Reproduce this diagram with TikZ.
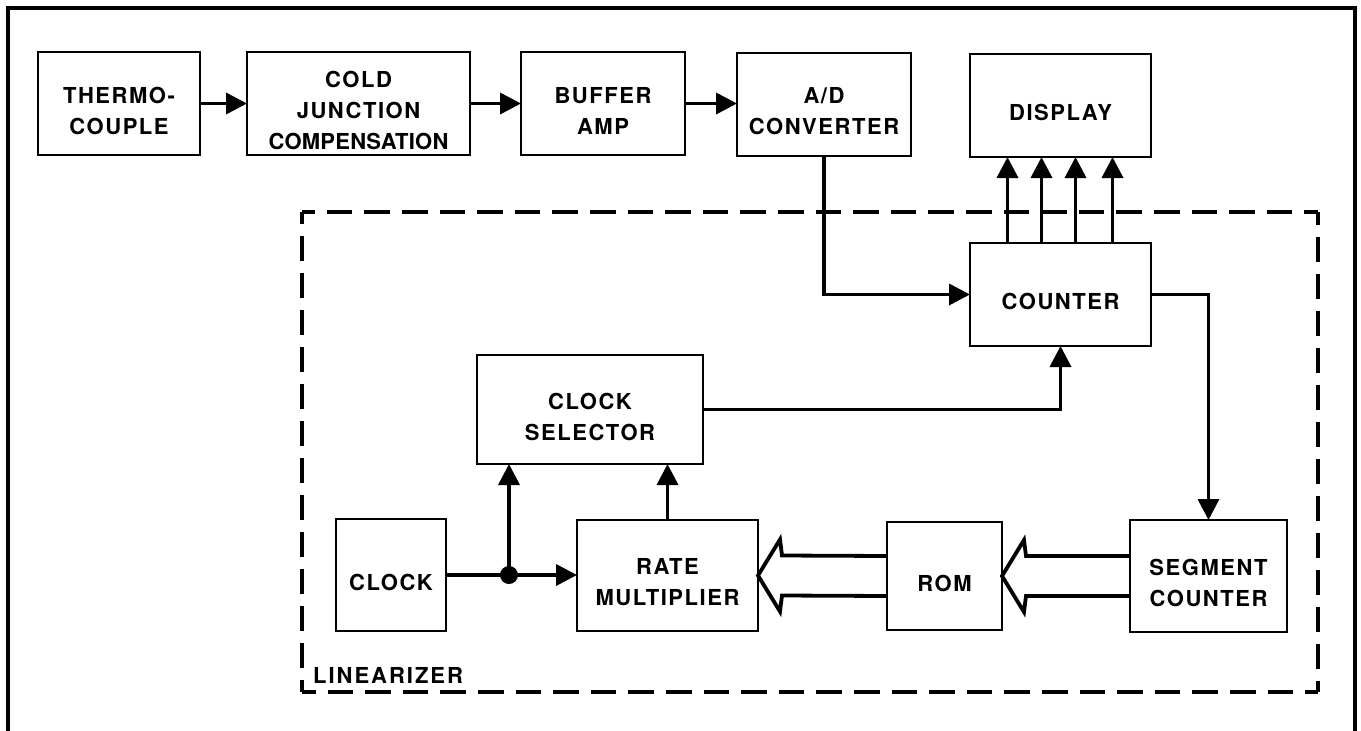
\documentclass[tikz,border=0pt]{standalone}
\usepackage{fontspec}
\setmainfont{TeX Gyre Heros}
\usetikzlibrary{arrows.meta,calc}
\newcommand\mkbox[6]{%
  \node[box,minimum width={(#4-#2)*1pt},minimum height={(#5-#3)*1pt}] (#1) at ({(#2+#4)/2},{(#3+#5)/2}) {};
  \node[lbl] (#1-t) at ([yshift=-7pt]#1.center) {#6};}
\begin{document}
\begin{tikzpicture}[x=1pt,y=-1pt,
  box/.style={draw,line width=2.2pt,inner sep=0pt,outer sep=0pt},
  lbl/.style={font=\fontsize{22}{31}\selectfont\bfseries\addfontfeature{LetterSpace=7},align=center,inner sep=0pt},
  conn/.style={line width=3.6pt},
  arr/.style={conn,-{Triangle[length=21pt,width=21pt]}},
  bus/.style={line width=3.8pt,line join=miter,miter limit=20},
  frame/.style={line width=3.5pt},
  hdash/.style={line width=3.5pt,dash pattern=on 25.6pt off 12pt,dash phase=12.8pt},
  vdash/.style={line width=3.5pt,dash pattern=on 25pt off 12pt,dash phase=12.5pt}]
\useasboundingbox (0,0) rectangle (1361,731);
% outer frame
\coordinate (fbl) at (8,745);
\coordinate (ftl) at (8,8);
\coordinate (ftr) at (1355,8);
\coordinate (fbr) at (1355,745);
\draw[frame] (fbl) -- (ftl) -- (ftr) -- (fbr);
% linearizer boundary
\coordinate (la) at (302,212);
\coordinate (lb) at (1318,212);
\coordinate (lc) at (1318,692);
\coordinate (ld) at (302,692);
\draw[hdash] (la) -- (lb);
\draw[vdash] (lb) -- (lc);
\draw[hdash] (lc) -- (ld);
\draw[vdash] (ld) -- (la);
\node[lbl,anchor=base west,font=\fontsize{22}{31}\selectfont\bfseries\addfontfeature{LetterSpace=9}] (lin) at (313,683) {LINEARIZER};
% boxes
\mkbox{tc}{38}{52}{200}{155}{THERMO-\\COUPLE}
\mkbox{cjc}{247}{52}{470}{155}{COLD\\JUNCTION\\{\addfontfeature{LetterSpace=1}COMPENSATION}}
\mkbox{buf}{521}{52}{685}{155}{BUFFER\\AMP}
\mkbox{adc}{737}{53}{911}{156}{A/D\\CONVERTER}
\mkbox{disp}{970}{54}{1151}{157}{DISPLAY}
\mkbox{cnt}{970}{243}{1151}{346}{COUNTER}
\mkbox{sel}{477}{355}{703}{464}{CLOCK\\SELECTOR}
\mkbox{clk}{336}{519}{446}{631}{CLOCK}
\mkbox{rm}{577}{520}{758}{631}{RATE\\MULTIPLIER}
\mkbox{rom}{887}{522}{1002}{630}{ROM}
\mkbox{seg}{1130}{520}{1287}{632}{SEGMENT\\COUNTER}
% top chain
\draw[arr] (tc.east) -- (cjc.west);
\draw[arr] (cjc.east) -- (buf.west);
\draw[arr] (buf.east) -- (buf.east -| adc.west);
% A/D to counter
\draw[arr] (adc.south) |- (cnt.west);
% counter to display
\foreach \dx in {-53,-19,15,52}
  \draw[arr] ([xshift=\dx pt]cnt.north) -- ([xshift=\dx pt]cnt.north |- disp.south);
% counter to segment counter
\draw[arr] (cnt.east) -| (seg.north);
% selector to counter
\draw[arr] (sel.east) -| (cnt.south);
% clock to rate multiplier
\coordinate (j) at (509,575);
\draw[arr] (clk.east) -- (clk.east -| rm.west);
\fill (j) circle[radius=9pt];
\draw[arr] (j) -- (j |- sel.south);
\draw[arr] (rm.north) -- (rm.north |- sel.south);
% buses
\draw[bus] ([yshift=20pt]seg.west) -- ([shift={(24,-20)}]rom.east) -- ([shift={(22,-36)}]rom.east) -- (rom.east) -- ([shift={(22,36)}]rom.east) -- ([shift={(24,20)}]rom.east) -- ([yshift=-20pt]seg.west);
\draw[bus] ([yshift=20pt]rom.west) -- ([shift={(24,-20)}]rm.east) -- ([shift={(22,-36)}]rm.east) -- (rm.east) -- ([shift={(22,36)}]rm.east) -- ([shift={(24,20)}]rm.east) -- ([yshift=-20pt]rom.west);
\end{tikzpicture}
\end{document}
